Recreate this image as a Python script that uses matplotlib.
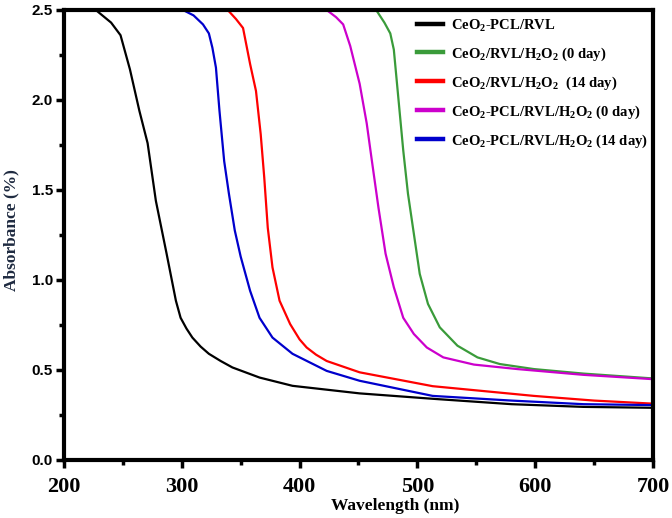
import matplotlib
matplotlib.use('Agg')
import matplotlib.pyplot as plt
from matplotlib.ticker import MultipleLocator

plt.rcParams['mathtext.default'] = 'regular'

# UV-vis spectra
wl_pcl = [227, 240, 248, 256, 264, 271, 278, 287, 295, 299, 304, 309, 316, 323, 333, 343, 366, 394, 451, 513, 580, 641, 700]
ab_pcl = [2.5, 2.43, 2.36, 2.17, 1.94, 1.76, 1.44, 1.15, 0.885, 0.79, 0.73, 0.68, 0.63, 0.59, 0.55, 0.514, 0.458, 0.412, 0.37, 0.34, 0.31, 0.295, 0.29]

wl_rvl0 = [465, 472, 477, 480, 484, 488, 492, 497, 502, 509, 519, 534, 551, 570, 599, 641, 700]
ab_rvl0 = [2.5, 2.43, 2.37, 2.28, 2.0, 1.72, 1.48, 1.257, 1.034, 0.867, 0.737, 0.635, 0.57, 0.533, 0.505, 0.48, 0.453]

wl_rvl14 = [339, 346, 352, 358, 363, 367, 370, 373, 377, 383, 392, 400, 406, 414, 423, 451, 513, 599, 650, 700]
ab_rvl14 = [2.5, 2.45, 2.40, 2.2, 2.05, 1.81, 1.57, 1.29, 1.07, 0.885, 0.755, 0.67, 0.625, 0.585, 0.55, 0.487, 0.41, 0.356, 0.33, 0.313]

wl_pclrvl0 = [423, 431, 437, 443, 451, 457, 461, 467, 473, 480, 488, 497, 508, 522, 548, 585, 641, 700]
ab_pclrvl0 = [2.5, 2.46, 2.42, 2.30, 2.09, 1.87, 1.68, 1.40, 1.146, 0.96, 0.79, 0.70, 0.625, 0.57, 0.53, 0.505, 0.473, 0.449]

wl_pclrvl14 = [301, 310, 318, 323, 326, 329, 332, 336, 340, 345, 350, 358, 366, 377, 394, 423, 451, 513, 580, 641, 700]
ab_pclrvl14 = [2.5, 2.47, 2.42, 2.37, 2.29, 2.18, 1.94, 1.66, 1.48, 1.275, 1.13, 0.94, 0.79, 0.68, 0.59, 0.495, 0.44, 0.356, 0.33, 0.31, 0.305]

labels = [
    'CeO$_2$-PCL/RVL',
    'CeO$_2$/RVL/H$_2$O$_2$ (0 day)',
    'CeO$_2$/RVL/H$_2$O$_2$  (14 day)',
    'CeO$_2$-PCL/RVL/H$_2$O$_2$ (0 day)',
    'CeO$_2$-PCL/RVL/H$_2$O$_2$ (14 day)',
]

fig = plt.figure(figsize=(6.72, 5.18), dpi=100)
ax = fig.add_axes([0.0952, 0.112, 0.8765, 0.8687])

ax.plot(wl_pcl, ab_pcl, color='black', lw=1.6, label=labels[0])
ax.plot(wl_rvl0, ab_rvl0, color='#3a9b3a', lw=1.6, label=labels[1])
ax.plot(wl_rvl14, ab_rvl14, color='#ff0000', lw=1.6, label=labels[2])
ax.plot(wl_pclrvl0, ab_pclrvl0, color='#cc00cc', lw=1.6, label=labels[3])
ax.plot(wl_pclrvl14, ab_pclrvl14, color='#0000cc', lw=1.6, label=labels[4])

ax.set_xlim(200, 700)
ax.set_ylim(0, 2.5)
ax.xaxis.set_major_locator(MultipleLocator(100))
ax.xaxis.set_minor_locator(MultipleLocator(50))
ax.yaxis.set_major_locator(MultipleLocator(0.5))
ax.yaxis.set_minor_locator(MultipleLocator(0.25))
ax.yaxis.set_major_formatter(matplotlib.ticker.FormatStrFormatter('%.1f'))

for sp in ax.spines.values():
    sp.set_linewidth(3)
ax.tick_params(which='major', length=6, width=2.5, direction='out')
ax.tick_params(which='minor', length=3.5, width=2.5, direction='out')
ax.tick_params(axis='x', pad=6)
ax.tick_params(axis='y', pad=2)

for t in ax.get_xticklabels():
    t.set_fontfamily('Liberation Serif')
    t.set_fontweight('bold')
    t.set_fontsize(16)
for t in ax.get_yticklabels():
    t.set_fontfamily('Liberation Sans')
    t.set_fontweight('bold')
    t.set_fontsize(11)

ax.set_xlabel('Wavelength (nm)', fontfamily='Liberation Serif', fontweight='bold', fontsize=12.5)
ax.xaxis.set_label_coords(0.562, -0.085)
ax.set_ylabel('Absorbance (%)', fontfamily='Liberation Serif', fontweight='bold', fontsize=12.5,
              color='#1e2a40')
ax.yaxis.set_label_coords(-0.075, 0.51)

leg = ax.legend(loc='upper left', bbox_to_anchor=(0.582, 1.006), frameon=False,
                prop={'family': 'Liberation Serif', 'weight': 'bold', 'size': 10.5},
                handlelength=1.75, handletextpad=0.55, labelspacing=0.8, borderpad=0.2)
for h in leg.get_lines():
    h.set_linewidth(3.2)

fig.savefig('out.png', dpi=100)
